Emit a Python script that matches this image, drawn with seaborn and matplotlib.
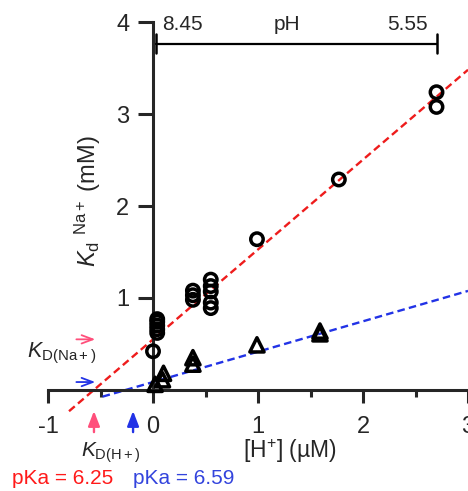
import numpy as np
import pandas as pd
import matplotlib
matplotlib.use('Agg')
import matplotlib.pyplot as plt
import seaborn as sns

sns.set_style('ticks')
plt.rcParams['font.family'] = ['Liberation Sans', 'DejaVu Sans']
plt.rcParams['mathtext.fontset'] = 'custom'
plt.rcParams['mathtext.rm'] = 'Liberation Sans'
plt.rcParams['mathtext.it'] = 'Liberation Sans:italic'

# Na+ data (circles): [H+] in uM, Kd in mM
na_h = [0.0, 0.04, 0.04, 0.04, 0.04, 0.04, 0.38, 0.38, 0.38,
        0.55, 0.55, 0.55, 0.55, 0.55, 0.99, 1.77, 2.70, 2.70]
na_kd = [0.42, 0.62, 0.66, 0.70, 0.74, 0.77, 0.98, 1.03, 1.08,
         0.89, 0.95, 1.07, 1.13, 1.20, 1.64, 2.29, 3.08, 3.24]

# second data set (triangles)
h_h = [0.02, 0.09, 0.10, 0.38, 0.38, 0.99, 1.59, 1.59]
h_kd = [0.06, 0.11, 0.18, 0.28, 0.35, 0.49, 0.61, 0.64]

# fit parameters
pka_red, kd_red = 6.25, 0.55
pka_blue, kd_blue = 6.59, 0.085
red_range = [-0.80, 3.0]
blue_range = [-0.48, 3.0]

# pH bar annotation
ph_ends = [0.03, 2.70]
ph_labels = ['8.45', 'pH', '5.55']
ph_label_x = [0.28, 1.28, 2.42]

red = '#ee1c1c'
blue = '#2233e6'
pink = '#ff4f7b'

fig = plt.figure(figsize=(4.68, 4.91), dpi=100)
ax = fig.add_axes([0.0353, 0.1405, 0.9647, 0.8513])

df_na = pd.DataFrame({'h': na_h, 'kd': na_kd})
df_h = pd.DataFrame({'h': h_h, 'kd': h_kd})


def fit_line(pka, kd, xr):
    ka = 10 ** (-pka) * 1e6  # uM
    x = np.array(xr)
    return pd.DataFrame({'h': x, 'kd': kd * (1 + x / ka)})


sns.lineplot(data=fit_line(pka_red, kd_red, red_range), x='h', y='kd', ax=ax,
             color=red, lw=1.7, dashes=(3.2, 1.8), zorder=2)
sns.lineplot(data=fit_line(pka_blue, kd_blue, blue_range), x='h', y='kd', ax=ax,
             color=blue, lw=1.7, dashes=(3.2, 1.8), zorder=2)

sns.scatterplot(data=df_na, x='h', y='kd', ax=ax, marker='o', s=80,
                color='black', facecolor='none', edgecolor='black',
                linewidth=2.5, zorder=3)
sns.scatterplot(data=df_h, x='h', y='kd', ax=ax, marker='^', s=105,
                color='black', facecolor='none', edgecolor='black',
                linewidth=2.5, zorder=3)

ax.set_xlim(-1.3, 3.0)
ax.set_ylim(-0.35, 4.2)
ax.set_xlabel('')
ax.set_ylabel('')

for s in ['top', 'right']:
    ax.spines[s].set_visible(False)
ax.spines['left'].set_position(('data', 0))
ax.spines['bottom'].set_position(('data', 0))
ax.spines['left'].set_bounds(0, 4)
ax.spines['bottom'].set_bounds(-1, 3)
ax.spines['left'].set_linewidth(2.2)
ax.spines['bottom'].set_linewidth(2.2)

ax.set_xticks([-1, 0, 1, 2, 3])
ax.set_xticklabels(['-1', '0', '1', '2', '3'])
ax.set_xticks([-0.5, 0.5, 1.5, 2.5], minor=True)
ax.set_yticks([1, 2, 3, 4])
ax.tick_params(axis='x', which='major', length=9.5, width=2.2, pad=9,
               labelsize=17, direction='out')
ax.tick_params(axis='x', which='minor', length=5, width=2.2, direction='out')
ax.tick_params(axis='y', which='major', length=11, width=2.2, pad=6,
               labelsize=17, direction='out')

# pH bar
ax.plot(ph_ends, [3.77, 3.77], color='black', lw=1.6, zorder=2)
for xe in ph_ends:
    ax.plot([xe, xe], [3.67, 3.87], color='black', lw=1.8)
for lab, xl in zip(ph_labels, ph_label_x):
    ax.text(xl, 3.87, lab, ha='center', va='bottom', fontsize=15)

# axis labels
ax.text(1.30, -0.67, '[H$^{+}$] (\u00b5M)', ha='center', va='center', fontsize=16.5)
ax.text(-0.62, 2.05, r'$K_{\mathrm{d}}$ $^{\mathrm{Na+}}$ (mM)', rotation=90,
        ha='center', va='center', fontsize=17)

# K_D arrows and labels
harrow = dict(arrowstyle='->,head_width=0.3,head_length=0.8', color=pink,
              lw=1.3, shrinkA=0, shrinkB=0)
ax.annotate('', xy=(-0.55, kd_red), xytext=(-0.73, kd_red), arrowprops=harrow)
ax.annotate('', xy=(-0.55, kd_blue), xytext=(-0.73, kd_blue),
            arrowprops=dict(harrow, color=blue))
ax.text(-1.2, 0.40, r'$K_{\mathrm{D(Na+)}}$', ha='left', va='center', fontsize=15.5)

ka_red = 10 ** (-pka_red) * 1e6
varrow = dict(arrowstyle='-|>,head_width=0.35,head_length=0.9', color=pink,
              lw=1.7, shrinkA=0, shrinkB=0)
ax.annotate('', xy=(-ka_red, -0.23), xytext=(-ka_red, -0.46), arrowprops=varrow)
ax.annotate('', xy=(-0.19, -0.23), xytext=(-0.19, -0.46),
            arrowprops=dict(varrow, color=blue))
ax.text(-0.69, -0.68, r'$K_{\mathrm{D(H+)}}$', ha='left', va='center', fontsize=15)

fig.text(0.025, 0.006, 'pKa = %.2f' % pka_red, color='#ff1a1a', fontsize=15,
         ha='left', va='bottom')
fig.text(0.284, 0.006, 'pKa = %.2f' % pka_blue, color='#3344dd', fontsize=15,
         ha='left', va='bottom')

fig.savefig('out.png', dpi=100)
